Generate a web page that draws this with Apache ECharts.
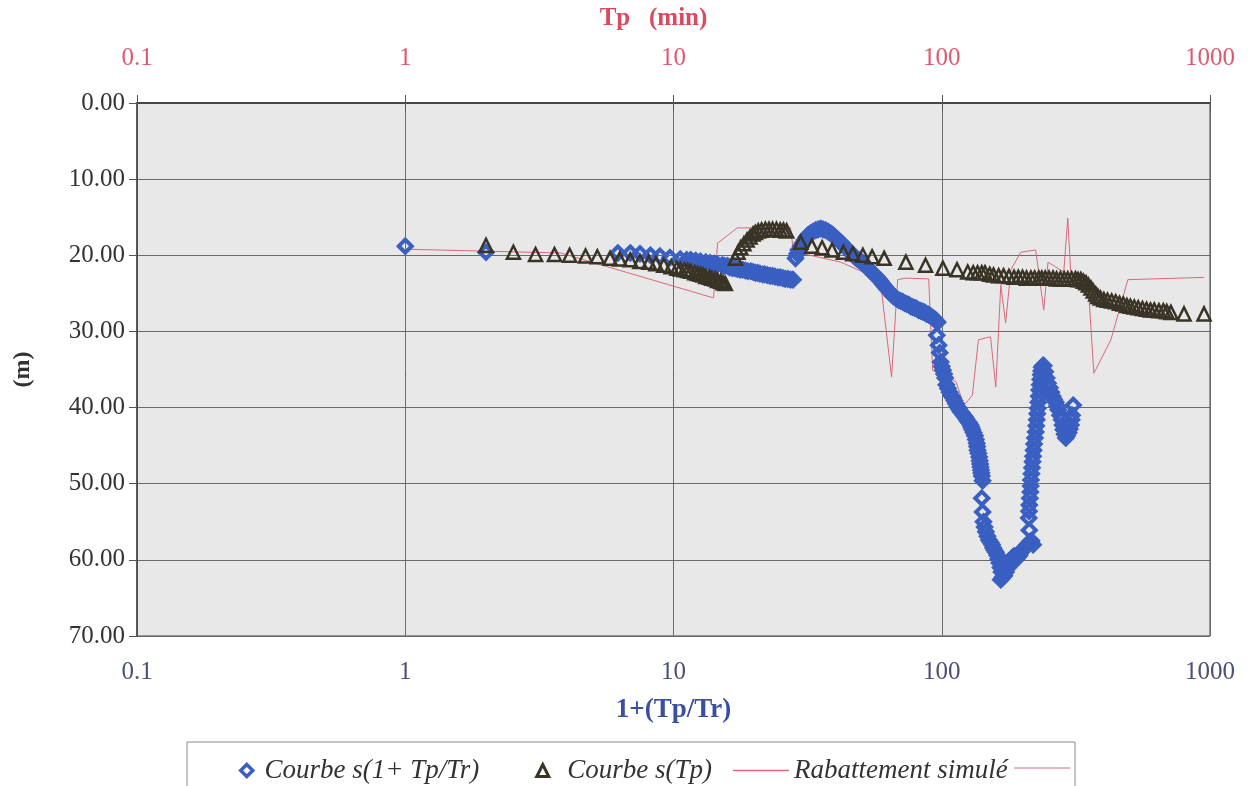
<!DOCTYPE html>
<html>
<head>
<meta charset="utf-8">
<script src="https://cdn.jsdelivr.net/npm/echarts@6/dist/echarts.min.js"></script>
<style>
  html, body { margin: 0; padding: 0; background: #ffffff; }
  #chart { width: 1248px; height: 786px; }
</style>
</head>
<body>
<div id="chart"></div>
<script>
// s(1+Tp/Tr) : [1+Tp/Tr, rabattement (m)]
const courbeRecup = [
  [1, 18.8], [2, 19.6],
  [6.2, 19.7], [6.9, 19.7], [7.5, 19.8], [8.2, 20.0], [8.9, 20.1], [9.7, 20.3],
  [10.6, 20.5], [11.2, 20.6], [11.6, 20.6], [12.1, 20.7], [12.6, 20.8], [13.2, 20.9],
  [13.7, 21.0], [14.2, 21.1], [14.6, 21.2],
  [15.2, 21.3], [15.5, 21.4], [15.9, 21.4], [16.2, 21.6], [16.6, 21.7], [17.0, 21.7],
  [17.3, 21.8], [17.7, 21.9], [18.1, 21.9], [18.5, 22.0], [18.9, 22.1], [19.4, 22.1],
  [19.8, 22.2], [20.2, 22.3], [20.6, 22.3], [21.0, 22.4], [21.5, 22.5], [21.9, 22.5],
  [22.4, 22.6], [22.9, 22.7], [23.4, 22.7], [23.9, 22.8], [24.5, 22.9], [25.0, 22.9],
  [25.6, 23.0], [26.1, 23.1], [26.7, 23.1], [27.3, 23.2], [27.9, 23.2],
  [28.5, 20.4], [28.9, 19.8], [29.2, 19.3], [29.8, 18.8], [30.3, 18.4], [30.8, 18.0],
  [31.3, 17.6], [31.8, 17.3], [32.4, 17.1], [33.1, 16.9], [33.9, 16.7], [34.6, 16.6],
  [35.4, 16.5], [36.1, 16.6], [36.9, 16.7], [37.7, 16.9], [38.5, 17.1], [39.2, 17.3],
  [39.9, 17.6], [40.6, 17.8], [41.4, 18.1], [42.1, 18.3], [42.8, 18.6], [43.6, 18.9],
  [44.5, 19.2], [45.1, 19.4], [45.7, 19.7], [46.5, 19.9], [47.4, 20.2], [48.2, 20.4],
  [49.1, 20.6], [49.9, 20.8], [50.8, 21.0], [51.6, 21.2], [52.5, 21.5], [53.4, 21.8],
  [54.3, 22.1], [55.2, 22.3], [56.2, 22.6], [57.2, 22.8], [58.2, 23.1], [59.2, 23.4],
  [60.3, 23.8], [61.3, 24.1], [62.3, 24.4], [63.4, 24.7], [64.5, 25.0], [65.6, 25.3],
  [66.7, 25.5], [67.9, 25.7], [69.1, 25.9], [70.3, 26.0], [71.5, 26.1], [72.7, 26.3],
  [74, 26.4], [75.3, 26.5], [76.6, 26.7], [77.9, 26.8], [79.3, 26.9], [80.6, 27.0],
  [82, 27.2], [83.5, 27.3], [84.9, 27.4], [86.3, 27.5], [87.8, 27.7], [89.4, 27.8],
  [91, 28.0], [92.6, 28.2], [94.2, 28.4], [95.4, 28.6], [96.5, 28.8],
  [95.8, 30.5], [97.3, 31.8], [98.3, 32.8], [99.1, 34.0], [100, 34.6], [101, 35.1],
  [102, 35.6], [103, 36.1], [104, 37.0], [105.5, 37.5], [107, 38.0], [108.5, 38.4],
  [110, 38.7], [111.5, 39.1], [113, 39.5], [114.5, 39.9], [116, 40.2], [117.5, 40.5],
  [119, 40.7], [120.5, 41.0], [122, 41.2], [123.5, 41.5], [125, 41.8], [126.5, 42.0],
  [128, 42.3], [129, 42.6], [130, 42.9], [131.5, 43.3], [133, 43.7], [134, 44.2],
  [135, 44.7], [135.5, 45.1], [136, 45.6], [137, 46.0], [138, 46.5], [138.5, 47.0],
  [139, 47.4], [139.5, 47.8], [140, 48.2], [140.5, 48.6], [141, 49.0], [142, 49.6],
  [141, 51.9], [142, 53.7], [143, 55.0], [144.5, 55.7], [146, 56.3], [148, 56.9],
  [150, 57.4], [152, 57.7], [154, 58.0], [155.5, 58.4], [157, 58.7], [159, 59.0],
  [161, 59.4], [162.5, 59.9], [164, 60.4], [165.5, 61.0], [167, 61.6], [166, 62.6],
  [168.5, 62.3], [171, 62.1], [173.5, 61.6], [176, 61.1], [178.5, 60.5], [181, 60.0],
  [183.5, 59.7], [186, 59.5], [188, 59.7], [190, 59.9], [192.5, 59.6], [195, 59.4],
  [197.5, 59.0], [200, 58.7], [203, 58.4], [206, 58.2], [208.5, 58.0], [211, 57.8],
  [213.5, 57.6], [216, 57.5], [219, 58.0],
  [212, 56.1], [211, 54.5], [211.5, 53.6], [212, 52.8], [213, 51.9], [214, 51.1],
  [214.5, 50.3], [215, 49.5], [216, 48.7], [217, 47.9], [218, 47.1], [219, 46.4],
  [220, 45.6], [221, 44.8], [222.5, 44.0], [224, 43.2], [225, 42.4], [226, 41.6],
  [227, 40.8], [228, 40.1], [229, 39.3], [230, 38.5], [231, 37.7], [232, 37.0],
  [233, 36.3], [234, 35.7], [235, 35.2], [236, 34.7], [238, 34.5], [240, 34.5],
  [243, 35.3], [246, 36.1], [249, 36.8], [253, 37.4], [256, 38.0], [259, 38.5],
  [262, 38.9], [266, 39.3], [269, 39.8], [272, 40.3], [276, 41.0], [280, 41.6],
  [282, 42.3], [284, 42.9], [287, 43.5], [290, 44.0], [293, 43.7], [297, 43.3],
  [300, 42.8], [303, 42.3], [305, 41.6], [306, 41.0], [309, 39.7]
];

// s(Tp) : [Tp (min), rabattement (m)]
const courbeTp = [
  [2, 18.7], [2.53, 19.6], [3.06, 19.9], [3.6, 19.9], [4.1, 20.0], [4.7, 20.1], [5.2, 20.2],
  [5.8, 20.4], [6.3, 20.5], [6.9, 20.6], [7.5, 20.8], [8.1, 20.9], [8.6, 21.1], [9.2, 21.3],
  [9.8, 21.5], [10.3, 21.7], [10.6, 21.8], [11.0, 21.9], [11.3, 22.0], [11.6, 22.1],
  [12.0, 22.3], [12.3, 22.4], [12.6, 22.5], [12.9, 22.6], [13.2, 22.8], [13.6, 22.9],
  [13.9, 23.0], [14.3, 23.1], [14.6, 23.3], [15.0, 23.4], [15.3, 23.6], [15.6, 23.7],
  [17.0, 20.4], [17.4, 19.6], [17.8, 19.0], [18.3, 18.5], [18.8, 18.0], [19.3, 17.6],
  [19.8, 17.2], [20.2, 17.0], [20.7, 16.8], [21.3, 16.7], [22.0, 16.6], [22.7, 16.6],
  [23.4, 16.6], [24.2, 16.6], [25.0, 16.7], [25.7, 16.7], [26.4, 16.8],
  [29.8, 18.3], [32.8, 18.8], [35.8, 19.0], [39, 19.3], [43, 19.6], [46.6, 19.8],
  [50.8, 20.0], [55, 20.2], [61, 20.4], [73.5, 20.9], [87, 21.3], [101, 21.7],
  [114, 21.9], [125, 22.2], [131, 22.3], [136, 22.3], [141, 22.3], [145, 22.3],
  [151, 22.5], [156, 22.6], [163, 22.7], [170, 22.7], [178, 22.8], [186, 22.9],
  [193, 22.9], [200, 22.9], [207, 23.0], [215, 23.0], [222, 23.0], [230, 23.0],
  [236, 23.0], [243, 23.0], [251, 23.0], [260, 23.0], [268, 23.1], [277, 23.1],
  [286, 23.1], [295, 23.1], [305, 23.1], [315, 23.1], [322, 23.2], [330, 23.2],
  [337, 23.4], [345, 23.6], [352, 23.9], [360, 24.3], [367, 24.7], [375, 25.1],
  [382, 25.4], [390, 25.6], [402, 25.8], [415, 25.9], [430, 26.0], [445, 26.1],
  [460, 26.3], [475, 26.4], [490, 26.6], [505, 26.7], [522, 26.8], [540, 26.9],
  [560, 27.0], [580, 27.1], [600, 27.2], [620, 27.2], [645, 27.3], [670, 27.3],
  [690, 27.4], [715, 27.5], [800, 27.7], [950, 27.7]
];

// rabattement simulé : [Tp (min), rabattement (m)]
const rabattement = [
  [1, 19.2], [3.8, 19.7], [14.1, 25.6], [14.6, 18.4], [17.3, 16.4], [27.3, 16.4],
  [28, 19.5], [42, 20.9], [59, 23.2], [65, 36.0], [68.5, 23.2], [73.4, 23.0],
  [89.4, 23.1], [92.5, 35.1], [113, 36.6], [121, 39.7], [130, 38.4], [137, 31.1],
  [152, 30.7], [159, 37.3], [166, 23.9], [173, 28.9], [181, 21.9], [197, 19.6],
  [224, 19.3], [240, 27.2], [249, 20.9], [285, 22.2], [295, 15.1], [303, 22.7],
  [351, 23.5], [369, 35.5], [427, 31.1], [494, 23.2], [950, 22.9]
];

const SERIES_NAMES = ["Courbe s(1+ Tp/Tr)", "Courbe s(Tp)", "Rabattement simulé"];
const BLUE = "#3a5fc2";
const DARK = "#3a3427";
const RED = "#d9687a";
const SERIF = "'Liberation Serif', 'DejaVu Serif', serif";

function logLabel(v) {
  return v < 1 ? v.toFixed(1) : String(Math.round(v));
}

const legendText = { fontFamily: SERIF, fontStyle: "italic", fontSize: 27, color: "#333" };

const chart = echarts.init(document.getElementById("chart"));

const option = {
  animation: false,
  backgroundColor: "#ffffff",
  grid: {
    left: 137, right: 38, top: 103, bottom: 150,
    show: true, backgroundColor: "#e8e8e8", borderColor: "#444", borderWidth: 1
  },
  graphic: [
    { type: "rect", z: 0, shape: { x: 187, y: 742, width: 888, height: 60 },
      style: { fill: "#ffffff", stroke: "#8a8a8a", lineWidth: 1 } },
    { type: "line", z: 1, shape: { x1: 1014, y1: 768, x2: 1070, y2: 768 },
      style: { stroke: RED, lineWidth: 1 } }
  ],
  legend: [
    {
      data: [
        { name: SERIES_NAMES[0], itemStyle: { color: "rgba(0,0,0,0)", borderColor: BLUE, borderWidth: 3.5 } },
        { name: SERIES_NAMES[1], itemStyle: { color: "rgba(0,0,0,0)", borderColor: DARK, borderWidth: 3 } }
      ],
      left: 234, top: 752,
      itemWidth: 12, itemHeight: 12, itemGap: 56,
      formatter: name => name === SERIES_NAMES[1] ? "  " + name : " " + name,
      textStyle: legendText
    },
    {
      data: [{ name: SERIES_NAMES[2], icon: "rect" }],
      left: 728, top: 752,
      itemWidth: 56, itemHeight: 1.5,
      itemStyle: { color: RED },
      textStyle: legendText
    }
  ],
  xAxis: [
    {
      type: "log", logBase: 10, min: 0.1, max: 1000, position: "bottom",
      name: "1+(Tp/Tr)", nameLocation: "middle", nameGap: 61,
      nameTextStyle: { fontFamily: SERIF, fontWeight: "bold", fontSize: 27, color: "#3b4fa0" },
      axisLine: { show: true, lineStyle: { color: "#444", width: 1.5 } },
      axisTick: { show: true, length: 8, lineStyle: { color: "#555" } },
      minorTick: { show: false },
      axisLabel: { formatter: logLabel, margin: 24, fontFamily: SERIF, fontSize: 25, color: "#4a5078" },
      splitLine: { show: true, lineStyle: { color: "#6a6a6a", width: 1 } }
    },
    {
      type: "log", logBase: 10, min: 0.1, max: 1000, position: "top",
      name: "Tp   (min)", nameLocation: "middle", nameGap: 72,
      nameTextStyle: { fontFamily: SERIF, fontWeight: "bold", fontSize: 25, color: "#d94a5f", padding: [0, 40, 0, 0] },
      axisLine: { show: true, lineStyle: { color: "#444", width: 1.5 } },
      axisTick: { show: true, length: 8, lineStyle: { color: "#555" } },
      axisLabel: { formatter: logLabel, margin: 32, fontFamily: SERIF, fontSize: 25, color: "#de5a70" },
      splitLine: { show: false }
    }
  ],
  yAxis: {
    type: "value", inverse: true, min: 0, max: 70, interval: 10,
    name: "(m)", nameLocation: "middle", nameGap: 102, nameRotate: 90,
    nameTextStyle: { fontFamily: SERIF, fontWeight: "bold", fontSize: 24, color: "#333" },
    axisLine: { show: true, lineStyle: { color: "#444", width: 1.5 } },
    axisTick: { show: true, length: 8, lineStyle: { color: "#555" } },
    axisLabel: {
      formatter: v => v.toFixed(2), margin: 12, fontFamily: SERIF, fontSize: 25, color: "#333",
      showMinLabel: true, showMaxLabel: true
    },
    splitLine: { show: true, lineStyle: { color: "#6a6a6a", width: 1 } }
  },
  series: [
    {
      name: SERIES_NAMES[2], type: "line", xAxisIndex: 1, data: rabattement,
      symbol: "none", z: 1,
      lineStyle: { color: RED, width: 1 }, itemStyle: { color: RED }
    },
    {
      name: SERIES_NAMES[0], type: "scatter", xAxisIndex: 0, data: courbeRecup,
      symbol: "diamond", symbolSize: 13, z: 2,
      itemStyle: { color: "rgba(0,0,0,0)", borderColor: BLUE, borderWidth: 4, opacity: 1 }
    },
    {
      name: SERIES_NAMES[1], type: "scatter", xAxisIndex: 1, data: courbeTp,
      symbol: "triangle", symbolSize: 13, z: 3,
      itemStyle: { color: "rgba(0,0,0,0)", borderColor: DARK, borderWidth: 2.5, opacity: 1 }
    }
  ]
};

chart.setOption(option);
</script>
</body>
</html>
